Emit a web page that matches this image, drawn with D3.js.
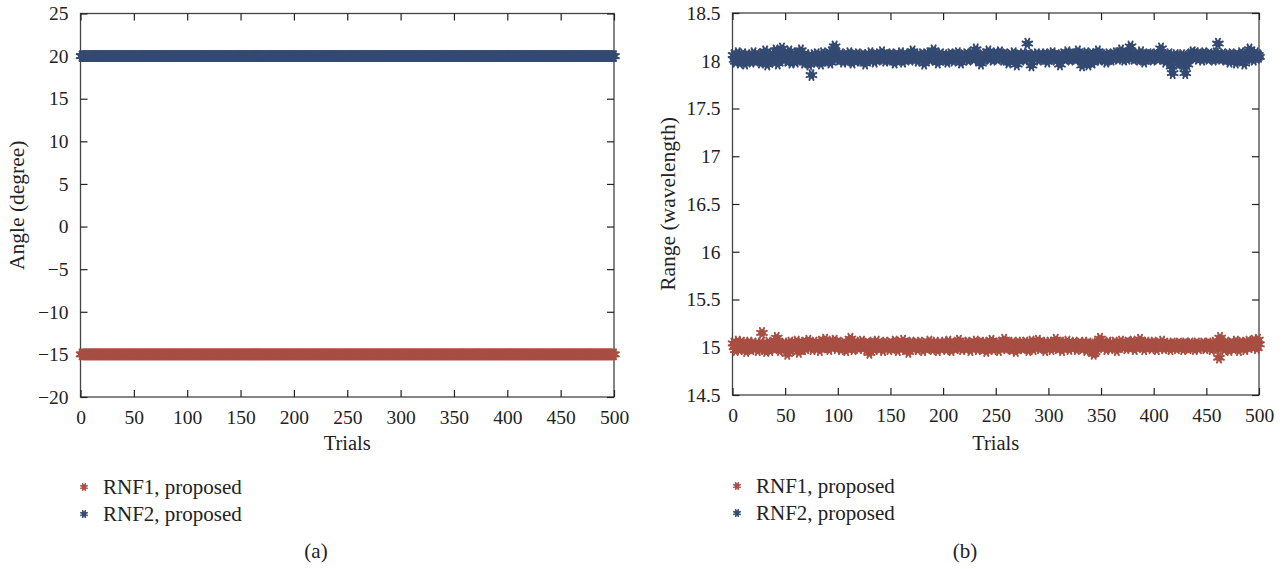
<!DOCTYPE html>
<html><head><meta charset="utf-8">
<script src="https://cdn.jsdelivr.net/npm/d3@7"></script>
<style>body{margin:0;background:#fff}svg{display:block}text{font-family:"Liberation Serif","DejaVu Serif",serif;fill:#222}</style>
</head><body><svg id="c" width="1284" height="569"></svg>
<script>
const trialTicks = [0,50,100,150,200,250,300,350,400,450,500];
const angleTicks = [25,20,15,10,5,0,-5,-10,-15,-20];
const rangeTicks = [18.5,18,17.5,17,16.5,16,15.5,15,14.5];
const seriesNames = ["RNF1, proposed","RNF2, proposed"];
const seriesColors = ["#A84E42","#344A72"];
const panelLabels = ["(a)","(b)"];
const nTrials = 500;
// angle estimates are constant over all 500 trials
const rnf1Angle = new Array(nTrials).fill(-15);
const rnf2Angle = new Array(nTrials).fill(20);
const rnf1Range = [
15.04,15.00,14.97,15.02,15.06,15.01,14.98,15.03,15.05,14.99,15.02,15.04,14.96,15.01,15.03,15.05,15.00,14.98,15.02,15.04,14.99,15.01,15.03,14.97,15.02,
15.00,15.04,15.15,15.01,14.98,15.03,14.96,15.02,15.05,15.00,14.97,15.03,15.01,15.04,14.99,15.02,15.10,15.06,15.00,14.97,15.03,15.01,14.98,15.04,15.02,
14.99,14.93,15.03,15.00,15.05,14.97,15.02,15.04,14.99,15.01,15.06,15.03,14.95,15.00,15.04,15.02,14.98,15.05,15.01,14.99,15.03,15.07,15.00,15.04,15.02,
14.98,15.03,15.05,15.01,14.99,15.04,15.02,14.97,15.06,15.03,15.00,15.05,15.08,15.02,15.04,15.00,14.98,15.03,15.06,15.01,15.04,15.07,15.02,14.99,15.03,
15.05,15.01,14.98,15.03,15.00,15.04,15.02,14.97,15.01,15.05,15.03,15.09,15.04,15.00,14.98,15.02,15.05,15.01,15.03,14.99,15.04,15.02,15.06,15.00,15.03,
15.01,14.98,15.04,15.02,14.94,15.03,15.00,15.05,15.01,14.98,15.03,15.06,15.02,14.99,15.04,15.01,15.03,14.97,15.02,15.05,15.00,15.03,15.01,14.98,15.04,
15.02,14.99,15.03,15.06,15.01,15.04,14.97,15.02,15.05,15.00,15.03,15.07,15.01,14.98,15.04,15.02,14.95,15.03,15.00,15.05,15.02,14.99,15.03,15.01,15.04,
14.98,15.02,15.05,15.00,15.03,14.97,15.01,15.04,15.02,14.99,15.03,15.06,15.01,15.04,14.98,15.02,15.00,15.05,15.03,14.97,15.01,15.04,15.02,14.99,15.03,
15.05,15.01,14.98,15.03,15.06,15.00,15.02,14.97,15.04,15.01,15.03,14.99,15.05,15.02,15.07,15.00,15.03,14.98,15.01,15.04,15.02,14.99,15.05,15.01,15.03,
14.97,15.02,15.04,15.00,15.03,15.06,15.01,14.98,15.04,15.02,15.05,14.99,15.03,15.01,15.04,14.96,15.02,15.05,15.00,15.03,15.07,15.01,14.98,15.04,15.02,
15.00,15.03,14.97,15.02,15.05,15.01,15.04,15.08,15.02,14.99,15.03,15.00,15.05,15.02,14.98,15.04,15.01,15.03,14.96,15.02,15.05,15.00,15.03,15.01,15.04,
14.99,15.02,15.05,15.01,15.03,14.97,15.04,15.00,15.06,15.02,14.98,15.03,15.01,15.04,15.07,15.02,14.99,15.03,15.05,15.00,15.02,14.97,15.04,15.01,15.03,
15.05,15.01,14.98,15.03,15.00,15.04,15.08,15.02,14.99,15.03,15.01,15.05,14.97,15.02,15.04,15.00,15.03,15.06,15.01,14.98,15.04,15.02,15.00,15.03,15.05,
15.01,14.98,15.03,15.00,15.04,15.02,14.99,15.03,15.05,15.01,14.97,15.02,15.04,15.00,15.03,14.98,15.01,14.93,14.95,15.02,15.04,15.01,15.05,15.09,15.06,
15.03,15.00,15.04,15.02,14.98,15.03,15.05,15.01,14.99,15.04,15.02,15.00,15.05,15.03,14.97,15.02,15.04,15.01,15.06,15.03,15.00,15.04,15.02,14.99,15.05,
15.02,15.04,15.00,15.03,15.06,15.01,14.98,15.04,15.02,15.00,15.05,15.08,15.03,15.01,15.04,14.98,15.02,15.05,15.00,15.03,15.01,15.04,14.99,15.02,15.05,
15.01,15.03,14.98,15.02,15.04,15.00,15.03,15.06,15.01,14.99,15.04,15.02,15.00,15.03,15.01,14.98,15.02,15.04,15.00,15.03,15.01,14.99,15.02,15.04,15.00,
15.03,15.01,14.98,15.02,15.04,15.00,15.03,14.99,15.01,15.04,15.02,15.00,15.03,14.98,15.01,15.04,15.02,14.99,15.03,15.01,15.00,15.04,15.02,14.99,15.03,
15.01,15.04,15.00,15.02,14.98,15.03,15.01,15.05,15.02,14.99,15.03,14.89,15.10,15.04,15.01,15.03,14.98,15.02,15.05,15.00,15.03,14.97,15.01,15.04,15.02,
14.99,15.03,15.06,15.01,15.04,14.97,15.02,15.05,15.00,15.03,15.01,14.98,15.04,15.02,15.06,15.00,15.03,15.05,15.01,15.07,15.02,15.04,14.99,15.08,15.03];
const rnf2Range = [
18.06,18.01,17.99,18.04,18.08,18.02,17.98,18.05,18.03,18.07,18.00,17.97,18.04,18.06,18.02,18.01,18.05,17.99,18.03,18.08,18.04,18.00,18.06,18.02,18.05,
18.03,17.98,18.07,18.01,18.04,18.10,18.02,17.96,18.05,18.03,17.99,18.06,18.01,18.04,18.08,18.11,18.03,17.97,18.05,18.02,18.09,18.13,18.06,18.01,18.04,
18.07,18.00,18.03,18.10,18.05,17.98,18.02,18.06,18.04,17.99,18.08,18.03,18.01,18.05,18.11,18.07,18.02,17.98,18.04,18.06,18.00,18.03,17.96,18.05,17.85,
18.02,18.06,18.04,17.99,18.07,18.03,18.01,18.05,17.97,18.04,18.08,18.02,18.06,18.00,18.03,18.07,18.05,17.98,18.02,18.09,18.12,18.15,18.06,18.03,18.05,
18.01,18.04,18.07,18.02,17.99,18.05,18.03,18.06,18.00,18.04,18.08,18.02,18.05,17.98,18.03,18.06,18.01,18.04,18.07,18.03,18.00,18.05,18.02,18.06,18.04,
17.97,18.03,18.06,18.01,18.04,18.08,18.02,18.05,18.03,17.99,18.06,18.04,18.01,18.07,18.03,18.05,18.09,18.02,18.04,18.00,18.06,18.03,18.05,18.01,18.04,
18.07,18.02,18.05,17.98,18.03,18.06,18.04,18.01,18.05,18.08,18.03,17.99,18.04,18.06,18.02,18.05,18.03,18.07,18.01,18.04,18.10,18.06,18.02,18.05,18.03,
18.00,18.06,18.04,18.02,18.07,18.03,17.97,18.05,18.02,18.06,18.04,18.08,18.01,18.03,18.05,18.11,18.04,18.02,18.06,17.98,18.03,18.05,18.07,18.02,18.04,
18.06,18.01,18.04,17.99,18.05,18.03,18.07,18.02,18.05,18.00,18.04,18.06,18.03,18.08,18.01,18.05,17.98,18.03,18.06,18.04,18.02,18.07,18.05,18.01,18.04,
18.03,18.08,18.05,18.02,18.06,18.12,18.04,18.01,18.05,18.03,17.97,18.06,18.04,18.02,18.07,18.03,18.05,18.10,18.02,18.04,18.06,18.01,18.05,18.03,18.08,
18.04,18.02,18.06,18.09,18.03,18.05,18.01,18.04,18.07,18.02,18.05,17.98,18.03,18.06,18.04,18.02,18.08,18.05,18.03,17.96,18.04,18.06,18.02,18.05,18.03,
18.07,18.04,18.01,18.05,18.18,18.06,18.03,18.05,17.95,18.02,18.06,18.04,18.03,18.07,18.05,18.01,18.04,18.06,18.02,18.05,18.03,18.07,18.04,17.99,18.05,
18.02,18.06,18.04,18.08,18.03,18.05,18.01,18.06,18.04,18.02,17.96,18.05,18.03,18.07,18.04,18.02,18.06,18.09,18.03,18.05,18.01,18.04,18.07,18.03,18.05,
18.02,18.06,18.10,18.04,18.01,18.05,17.95,18.03,18.06,18.04,18.08,18.02,17.96,18.05,18.03,18.07,17.98,18.04,18.06,18.02,18.05,18.10,18.03,18.01,18.04,
18.06,18.02,18.05,18.03,17.99,18.04,18.07,18.02,18.05,18.01,18.04,18.06,18.03,18.08,18.05,18.02,18.04,18.06,18.11,18.03,18.05,18.01,18.04,18.07,18.02,
18.05,18.10,18.15,18.04,18.06,18.02,18.05,18.03,18.07,18.04,18.01,18.05,18.09,18.03,18.06,17.99,18.04,18.02,18.05,18.07,18.03,18.06,18.04,18.01,18.05,
18.03,18.07,18.04,18.02,18.06,18.05,18.13,18.03,18.06,18.04,17.99,18.02,18.05,18.03,18.07,18.01,17.94,17.87,18.04,18.02,18.06,18.03,17.97,18.05,18.02,
18.04,18.06,17.95,18.01,17.87,18.03,17.96,18.05,18.02,18.07,18.04,18.09,18.06,18.03,18.08,18.05,18.02,18.07,18.04,18.06,18.01,18.05,18.08,18.03,18.06,
18.04,18.02,18.07,18.05,18.03,18.06,18.01,18.04,18.08,18.05,18.18,18.03,18.06,18.02,18.05,18.07,18.04,18.01,18.05,18.03,18.06,17.99,18.04,18.07,18.02,
18.05,18.03,17.98,18.06,18.04,18.02,18.05,18.08,18.03,18.06,17.97,18.04,18.07,18.02,18.05,18.12,18.03,18.06,18.04,18.01,18.05,18.08,18.03,18.06,18.04];

const svg = d3.select("#c");

function starPath(r){
  let p = "";
  for (let k = 0; k < 4; k++){
    const a = k*Math.PI/4 + Math.PI/8;
    const dx = r*Math.cos(a), dy = r*Math.sin(a);
    p += `M${-dx},${-dy}L${dx},${dy}`;
  }
  return p;
}

const panels = [
  {left:80.5, right:614, top:13.5, bottom:397, domain:[-20,25], ticks:angleTicks, series:[rnf1Angle,rnf2Angle],
   ylabel:"Angle (degree)", ylabelX:17, legendX:84, legendY:487, labelX:316, fmt:d=>d<0?"\u2212"+Math.abs(d):String(d)},
  {left:732.5, right:1259, top:13, bottom:395, domain:[14.5,18.5], ticks:rangeTicks, series:[rnf1Range,rnf2Range],
   ylabel:"Range (wavelength)", ylabelX:668, legendX:737, legendY:486, labelX:965, fmt:d=>String(d)}
];

panels.forEach((P,pi)=>{
  const x = d3.scaleLinear().domain([0,500]).range([P.left,P.right]);
  const y = d3.scaleLinear().domain(P.domain).range([P.bottom,P.top]);
  const g = svg.append("g");
  const tl = 7;
  g.append("rect").attr("x",P.left).attr("y",P.top).attr("width",P.right-P.left).attr("height",P.bottom-P.top)
   .attr("fill","none").attr("stroke","#444").attr("stroke-width",1.3);
  const axB = d3.axisBottom(x).tickValues(trialTicks).tickSize(-tl).tickPadding(13).tickFormat(d3.format("d"));
  const axT = d3.axisTop(x).tickValues(trialTicks).tickSize(-tl).tickFormat("");
  const axL = d3.axisLeft(y).tickValues(P.ticks).tickSize(-tl).tickPadding(12).tickFormat(P.fmt);
  const axR = d3.axisRight(y).tickValues(P.ticks).tickSize(-tl).tickFormat("");
  [[axB,`translate(0,${P.bottom})`],[axT,`translate(0,${P.top})`],[axL,`translate(${P.left},0)`],[axR,`translate(${P.right},0)`]].forEach(([ax,tr])=>{
    const a = g.append("g").attr("transform",tr).call(ax);
    a.select(".domain").remove();
    a.selectAll("line").attr("stroke","#222").attr("stroke-width",1.2);
    a.selectAll("text").attr("font-family","Liberation Serif, serif").attr("font-size",19.5).attr("fill","#222");
  });
  const sp = starPath(5.3);
  P.series.forEach((vals,si)=>{
    const col = seriesColors[si];
    const mg = g.append("g");
    mg.selectAll("g").data(vals).join("g")
      .attr("transform",(v,i)=>`translate(${x(i+1)},${y(v)})`)
      .each(function(){
        const s = d3.select(this);
        s.append("circle").attr("r",3.6).attr("fill",col);
        s.append("path").attr("d",sp).attr("stroke",col).attr("stroke-width",2).attr("stroke-linecap","round");
      });
  });
  g.append("text").attr("x",(P.left+P.right)/2).attr("y",450).attr("text-anchor","middle").attr("font-size",20.5).text("Trials");
  g.append("text").attr("transform",`translate(${P.ylabelX},${(P.top+P.bottom)/2}) rotate(-90)`).attr("text-anchor","middle")
    .attr("dominant-baseline","central").attr("font-size",21.5).text(P.ylabel);
  seriesNames.forEach((nm,si)=>{
    const ly = P.legendY + si*27;
    const lg = g.append("g").attr("transform",`translate(${P.legendX},${ly})`);
    lg.append("circle").attr("r",2.2).attr("fill",seriesColors[si]);
    lg.append("path").attr("d",starPath(3.4)).attr("stroke",seriesColors[si]).attr("stroke-width",1.6).attr("stroke-linecap","round");
    g.append("text").attr("x",P.legendX+19).attr("y",ly+6.5).attr("font-size",21).text(nm);
  });
  g.append("text").attr("x",P.labelX).attr("y",558).attr("text-anchor","middle").attr("font-size",21).text(panelLabels[pi]);
});
</script></body></html>
